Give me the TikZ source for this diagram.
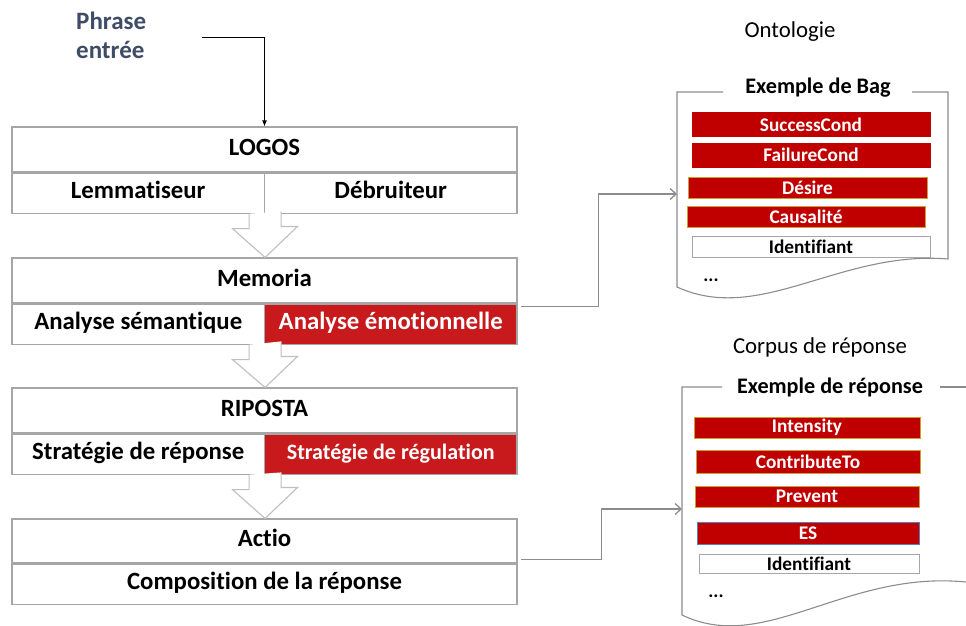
\documentclass[tikz,border=0pt]{standalone}
\usepackage{fontspec}
\setmainfont{Carlito}[Ligatures = NoCommon]
\usetikzlibrary{arrows.meta}

\definecolor{boxgray}{HTML}{A6A6A6}
\definecolor{arrowgray}{HTML}{BFBFBF}
\definecolor{linkgray}{HTML}{8C8C8C}
\definecolor{emored}{HTML}{C8191C}
\definecolor{itemred}{HTML}{C00000}
\definecolor{itemgold}{HTML}{C9A032}
\definecolor{itemblue}{HTML}{5B7DB5}
\definecolor{phrasecol}{HTML}{3E4C66}

\begin{document}
\begin{tikzpicture}[x = 1pt, y = -1pt,
        cell/.style = {draw = boxgray, line width = 1.1pt, fill = white, inner sep = 0pt, text height = 15.5pt, text depth = 4.5pt, minimum width = 252.5pt, minimum height = 40pt, font = \bfseries\fontsize{24.8}{28}\selectfont},
        head/.style = {cell, minimum width = 505pt, minimum height = 45pt},
        hot/.style = {cell, fill = emored, text = white},
        hollow/.style = {draw = arrowgray, line width = 1.1pt, fill = white},
        link/.style = {draw = linkgray, line width = 1.3pt, -{Straight Barb[length = 6pt, width = 11pt]}},
        doc/.style = {draw = linkgray, line width = 1.1pt},
        item/.style = {draw = itemgold, line width = 1pt, fill = itemred, text = white, inner sep = 0pt, minimum height = 21pt, font = \bfseries\fontsize{19.3}{21}\selectfont},
        label/.style = {inner sep = 0pt, font = \fontsize{22.8}{26}\selectfont},
        doctitle/.style = {inner sep = 0pt, font = \bfseries\fontsize{22.2}{26}\selectfont}]
    \useasboundingbox (0,0) rectangle (966,626);

    % input
    \node[anchor = west, align = left, inner sep = 0pt, text = phrasecol, font = \bfseries\fontsize{25}{29}\selectfont] (phrase) at (76,35) {Phrase\\entrée};
    \coordinate (phrase-out) at (202,38);

    % modules
    \node[head] (logos) at (264.5,149.5) {LOGOS};
    \node[cell, anchor = north west] (lemma) at (logos.south west) {Lemmatiseur};
    \node[cell, anchor = north east] (debruit) at (logos.south east) {Débruiteur};

    \node[head] (memoria) at (264.5,280.5) {Memoria};
    \node[cell, anchor = north west] (anasem) at (memoria.south west) {Analyse sémantique};
    \node[hot, anchor = north east] (anaemo) at (memoria.south east) {Analyse émotionnelle};

    \node[head] (riposta) at (264.5,410.5) {RIPOSTA};
    \node[cell, anchor = north west] (stratrep) at (riposta.south west) {Stratégie de réponse};
    \node[hot, anchor = north east, font = \bfseries\fontsize{22}{25}\selectfont] (stratreg) at (riposta.south east) {Stratégie de régulation};

    \node[head, minimum height = 44pt] (actio) at (264.5,541) {Actio};
    \node[head, minimum height = 40pt, anchor = north] (compo) at (actio.south) {Composition de la réponse};

    % hollow arrows between modules
    \foreach \a/\b in {lemma/memoria, anasem/riposta, stratrep/actio}
        \draw[hollow] ([xshift = -16pt]\a.south east) -- ++(0,15) -- ++(-16.5,0) -- (\a.south east |- \b.north) -- ++(32.5,-31) -- ++(-16.5,0) -- ++(0,-15);

    \draw[-{Latex[length = 6pt, width = 5pt]}, line width = 1pt] (phrase-out) -| (logos.north);

    % ontologie
    \node[label] (onto) at (790,32) {Ontologie};
    \node[doctitle] (bag) at (818,88) {Exemple de Bag};
    \draw[doc] (723,92) -- (677,92) -- (677,287) .. controls (760,325) and (840,250) .. (948,259) -- (948,92) -- (912,92);
    \coordinate (bag-in) at (677,194);

    \node[item, draw = itemred, minimum width = 238pt, minimum height = 24pt] (success) at (811,124.5) {SuccessCond};
    \node[item, draw = itemred, minimum width = 238pt, minimum height = 24pt] (failure) at (811,155) {FailureCond};
    \node[item, minimum width = 239pt] (desire) at (807.5,187.5) {Désire};
    \node[item, minimum width = 238pt] (causal) at (806,216.5) {Causalité};
    \node[item, draw = boxgray, fill = white, text = black, minimum width = 238pt] (ident1) at (811,246.5) {Identifiant};
    \node[anchor = base, inner sep = 0pt, font = \bfseries\fontsize{19}{21}\selectfont] (dots1) at (711,281) {...};

    % corpus
    \node[label] (corpus) at (820,347) {Corpus de réponse};
    \node[doctitle] (rep) at (830,387) {Exemple de réponse};
    \draw[doc] (722,387) -- (682,387) -- (682,615) .. controls (765,655) and (845,570) .. (966,582);
    \draw[doc] (940,387) -- (966,387);
    \coordinate (corpus-in) at (682,509);

    \node[item, minimum width = 226pt] (intens) at (807,427.5) {Intensity};
    \node[item, minimum width = 224pt, minimum height = 23pt] (contrib) at (808,461.5) {ContributeTo};
    \node[item, minimum width = 224pt] (prevent) at (807,496.5) {Prevent};
    \node[item, draw = itemblue, minimum width = 222pt, minimum height = 22pt] (es) at (808,533) {ES};
    \node[item, draw = boxgray, fill = white, text = black, minimum width = 220pt, minimum height = 19pt] (ident2) at (809,563.5) {Identifiant};
    \node[anchor = base, inner sep = 0pt, font = \bfseries\fontsize{19}{21}\selectfont] (dots2) at (716,597) {...};

    % links
    \draw[link] ([xshift = 3pt, yshift = -3pt]anaemo.north east) -- ++(78,0) |- (bag-in);
    \draw[link] ([xshift = 3pt, yshift = 4pt]compo.north east) -- ++(81,0) |- (corpus-in);
\end{tikzpicture}
\end{document}
